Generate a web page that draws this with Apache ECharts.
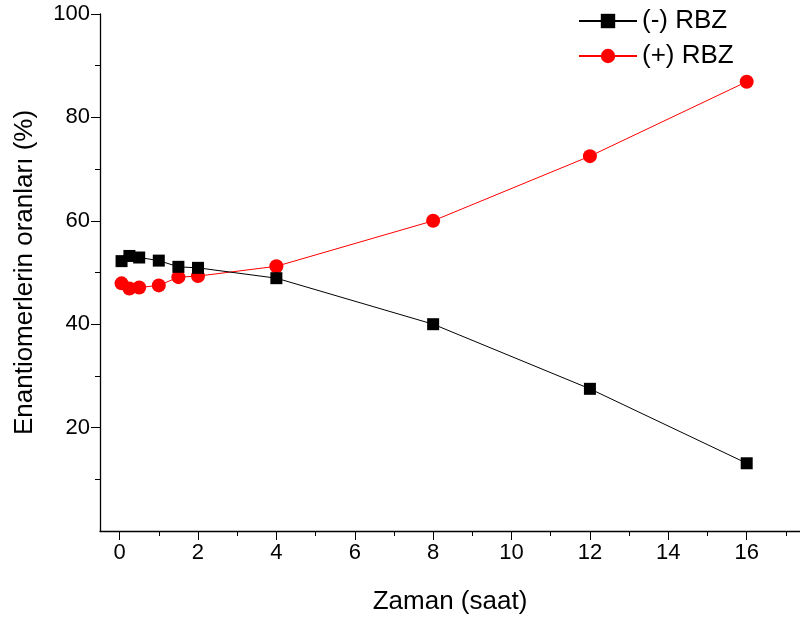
<!DOCTYPE html>
<html><head><meta charset="utf-8">
<script src="https://cdn.jsdelivr.net/npm/echarts@6/dist/echarts.min.js"></script>
<style>html,body{margin:0;padding:0;background:#fff}#c{width:800px;height:620px}</style>
</head><body><div id="c"></div>
<script>
const timeHours = [0.05, 0.25, 0.5, 1, 1.5, 2, 4, 8, 12, 16];
const minusRBZ = [52.2, 53.2, 52.9, 52.3, 51.1, 50.9, 48.9, 40.0, 27.5, 13.1];
const plusRBZ = [47.9, 46.9, 47.1, 47.5, 49.1, 49.3, 51.2, 60.0, 72.5, 86.9];
const seriesNames = ['(-) RBZ', '(+) RBZ'];
const xTicks = [0, 2, 4, 6, 8, 10, 12, 14, 16];
const xMinorTicks = [1, 3, 5, 7, 9, 11, 13, 15, 17];
const yTicks = [20, 40, 60, 80, 100];
const yMinorTicks = [10, 30, 50, 70, 90];
const xTitle = 'Zaman (saat)';
const yTitle = 'Enantiomerlerin oranları (%)';

const font = 'Liberation Sans, Arial, sans-serif';
const chart = echarts.init(document.getElementById('c'), null, {renderer: 'canvas'});
const pair = (xs, ys) => xs.map((x, i) => [x, ys[i]]);
const X_MIN = -0.5, X_MAX = 17.36, Y_MIN = 0, Y_MAX = 100;
chart.setOption({
  animation: false,
  backgroundColor: '#fff',
  textStyle: {fontFamily: font},
  grid: {left: 100, right: 0, top: 14, bottom: 86, containLabel: false},
  legend: {
    left: 578, top: 8, padding: 0, orient: 'vertical', itemGap: 9,
    itemWidth: 58, itemHeight: 18,
    textStyle: {fontFamily: font, fontSize: 26, color: '#000'},
    data: seriesNames
  },
  xAxis: [{
    type: 'value', min: X_MIN, max: X_MAX,
    name: xTitle, nameLocation: 'middle', nameGap: 58,
    nameTextStyle: {fontFamily: font, fontSize: 26, color: '#000'},
    axisLine: {show: true, onZero: false, lineStyle: {color: '#000', width: 1.3}},
    axisTick: {show: true, inside: false, length: 9, lineStyle: {color: '#000'}, customValues: xTicks},
    axisLabel: {fontFamily: font, fontSize: 22, color: '#000', margin: 11, customValues: xTicks},
    splitLine: {show: false}
  }, {
    type: 'value', min: X_MIN, max: X_MAX, position: 'bottom',
    axisLine: {show: false, onZero: false},
    axisTick: {show: true, inside: false, length: 5, lineStyle: {color: '#000'}, customValues: xMinorTicks},
    axisLabel: {show: false},
    splitLine: {show: false}
  }],
  yAxis: [{
    type: 'value', min: Y_MIN, max: Y_MAX,
    name: yTitle, nameLocation: 'middle', nameGap: 62, nameRotate: 90,
    nameTextStyle: {fontFamily: font, fontSize: 26, color: '#000'},
    axisLine: {show: true, onZero: false, lineStyle: {color: '#000', width: 1.3}},
    axisTick: {show: true, inside: false, length: 9, lineStyle: {color: '#000'}, customValues: yTicks},
    axisLabel: {fontFamily: font, fontSize: 22, color: '#000', margin: 10, customValues: yTicks},
    splitLine: {show: false}
  }, {
    type: 'value', min: Y_MIN, max: Y_MAX, position: 'left',
    axisLine: {show: false, onZero: false},
    axisTick: {show: true, inside: false, length: 5, lineStyle: {color: '#000'}, customValues: yMinorTicks},
    axisLabel: {show: false},
    splitLine: {show: false}
  }],
  series: [
    {
      name: seriesNames[0], type: 'line', data: pair(timeHours, minusRBZ),
      symbol: 'rect', symbolSize: 12,
      lineStyle: {color: '#000', width: 1},
      itemStyle: {color: '#000'}, z: 3
    },
    {
      name: seriesNames[1], type: 'line', data: pair(timeHours, plusRBZ),
      symbol: 'circle', symbolSize: 14,
      lineStyle: {color: '#ff0000', width: 1},
      itemStyle: {color: '#ff0000'}, z: 2
    }
  ]
});
</script></body></html>
